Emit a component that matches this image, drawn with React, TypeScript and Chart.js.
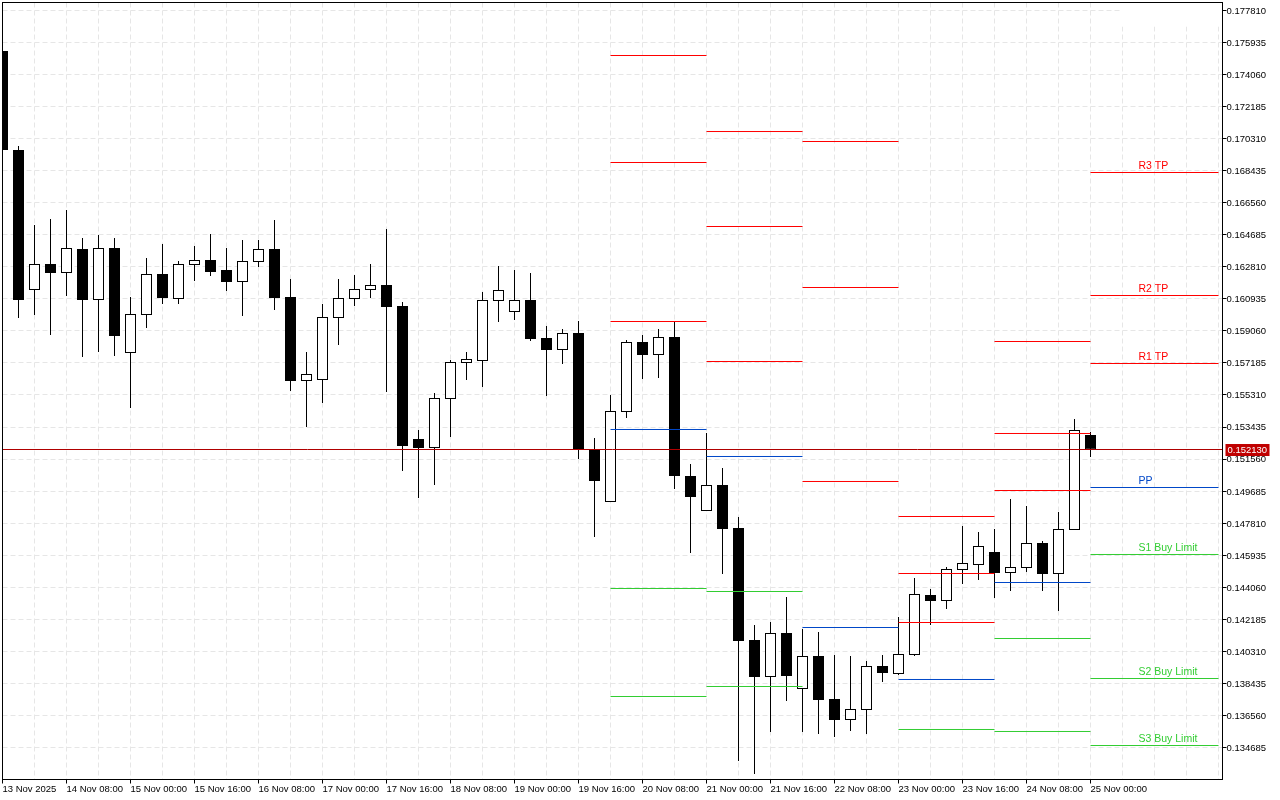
import { useEffect, useRef } from "react";
import { Chart, registerables } from "chart.js";
import type { Plugin } from "chart.js";

Chart.register(...registerables);

const opens = [
  0.17544, 0.169646, 0.161453, 0.162975, 0.162448, 0.163853, 0.160868, 0.163911, 0.157766, 0.15999,
  0.16239, 0.160927, 0.162916, 0.163209, 0.162624, 0.161921, 0.163092, 0.163853, 0.161044, 0.156128,
  0.156186, 0.159815, 0.160927, 0.161453, 0.161746, 0.160517, 0.152734, 0.152207, 0.155075, 0.157181,
  0.157298, 0.160809, 0.160166, 0.160868, 0.158644, 0.157942, 0.158937, 0.152149, 0.149047, 0.154314,
  0.15841, 0.157649, 0.158703, 0.150568, 0.14852, 0.150042, 0.147525, 0.140971, 0.138806, 0.141381,
  0.138104, 0.140035, 0.137519, 0.13629, 0.136875, 0.13945, 0.138982, 0.140093, 0.143605, 0.143253,
  0.145068, 0.14536, 0.146121, 0.144892, 0.145185, 0.146648, 0.144834, 0.147408, 0.152968,
];
const highs = [
  0.17544, 0.16988, 0.165257, 0.165608, 0.166135, 0.164496, 0.164672, 0.164496, 0.161044, 0.163326,
  0.164145, 0.16315, 0.164028, 0.16473, 0.163911, 0.164379, 0.164379, 0.16555, 0.162097, 0.157825,
  0.160634, 0.162097, 0.162331, 0.162975, 0.165023, 0.160751, 0.15326, 0.155426, 0.157357, 0.157825,
  0.161336, 0.162858, 0.162624, 0.162448, 0.159346, 0.159171, 0.159639, 0.152792, 0.155309, 0.158527,
  0.15882, 0.159171, 0.159581, 0.151271, 0.153085, 0.151037, 0.148169, 0.141849, 0.142025, 0.143488,
  0.141615, 0.141439, 0.140093, 0.140035, 0.139742, 0.140093, 0.142317, 0.144599, 0.143956, 0.145243,
  0.147642, 0.147291, 0.147467, 0.149223, 0.148813, 0.146765, 0.148462, 0.153904, 0.153143,
];
const lows = [
  0.169646, 0.159815, 0.15999, 0.15882, 0.161102, 0.157532, 0.157825, 0.157591, 0.154548, 0.159229,
  0.160634, 0.160634, 0.16198, 0.162272, 0.161395, 0.159932, 0.162799, 0.160283, 0.155543, 0.153436,
  0.15484, 0.158235, 0.160517, 0.160985, 0.155484, 0.150861, 0.149281, 0.150042, 0.152851, 0.156186,
  0.155777, 0.159581, 0.159698, 0.158469, 0.15525, 0.157123, 0.151563, 0.146999, 0.149047, 0.153963,
  0.156245, 0.156303, 0.149808, 0.146062, 0.14852, 0.144834, 0.13389, 0.13313, 0.135587, 0.137401,
  0.135587, 0.13547, 0.135295, 0.135646, 0.13547, 0.138513, 0.138923, 0.140035, 0.141849, 0.142785,
  0.144248, 0.144482, 0.143429, 0.143839, 0.144951, 0.143839, 0.142668, 0.147408, 0.15168,
];
const closes = [
  0.169646, 0.160868, 0.162975, 0.162448, 0.163911, 0.160868, 0.163911, 0.158761, 0.160049, 0.16239,
  0.160985, 0.162975, 0.163209, 0.162507, 0.161921, 0.16315, 0.163853, 0.160985, 0.156128, 0.156538,
  0.159873, 0.160985, 0.161512, 0.161746, 0.160458, 0.152324, 0.152207, 0.155133, 0.15724, 0.157415,
  0.160868, 0.161453, 0.160868, 0.158586, 0.157942, 0.158937, 0.15209, 0.150276, 0.154372, 0.15841,
  0.157649, 0.158703, 0.150568, 0.14934, 0.150042, 0.147467, 0.140913, 0.138806, 0.141381, 0.138864,
  0.140035, 0.13746, 0.13629, 0.136933, 0.13945, 0.13904, 0.140152, 0.143663, 0.143253, 0.145126,
  0.145477, 0.146472, 0.144892, 0.145243, 0.146648, 0.144834, 0.147467, 0.15326, 0.15213,
];

const xLabels = [
  "13 Nov 2025", "14 Nov 08:00", "15 Nov 00:00", "15 Nov 16:00", "16 Nov 08:00", "17 Nov 00:00",
  "17 Nov 16:00", "18 Nov 08:00", "19 Nov 00:00", "19 Nov 16:00", "20 Nov 08:00", "21 Nov 00:00",
  "21 Nov 16:00", "22 Nov 08:00", "23 Nov 00:00", "23 Nov 16:00", "24 Nov 08:00", "25 Nov 00:00",
];
const yTicks = [
  0.17781, 0.175935, 0.17406, 0.172185, 0.17031, 0.168435, 0.16656, 0.164685, 0.16281, 0.160935, 0.15906,
  0.157185, 0.15531, 0.153435, 0.15156, 0.149685, 0.14781, 0.145935, 0.14406, 0.142185, 0.14031, 0.138435,
  0.13656, 0.134685,
];

// [first bar, last bar, price] of each pivot level
const redLevels = [
  [38, 44, 0.175176], [38, 44, 0.168914], [38, 44, 0.15961],
  [44, 50, 0.170728], [44, 50, 0.165169], [44, 50, 0.157269],
  [50, 56, 0.170143], [50, 56, 0.161599], [50, 56, 0.150247],
  [56, 62, 0.148198], [56, 62, 0.144863], [56, 62, 0.141995],
  [62, 68, 0.158439], [62, 68, 0.153056], [62, 68, 0.14972],
  [68, 76, 0.168329], [68, 76, 0.161131], [68, 76, 0.157152],
];
const blueLevels = [
  [38, 44, 0.15329], [44, 50, 0.15171], [50, 56, 0.141703],
  [56, 62, 0.13866], [62, 68, 0.144336], [68, 76, 0.149895],
];
const greenLevels = [
  [38, 44, 0.143985], [38, 44, 0.137665],
  [44, 50, 0.143809], [44, 50, 0.13825],
  [56, 62, 0.135734],
  [62, 68, 0.141059], [62, 68, 0.135617],
  [68, 76, 0.145975], [68, 76, 0.138718], [68, 76, 0.134797],
];

const redNames = [["R3 TP", 0.168329], ["R2 TP", 0.161131], ["R1 TP", 0.157152]] as const;
const blueNames = [["PP", 0.149895]] as const;
const greenNames = [["S1 Buy Limit", 0.145975], ["S2 Buy Limit", 0.138718], ["S3 Buy Limit", 0.134797]] as const;

const bidLabel = "0.152130";
const bidLine = 0.152119; // where the line sits on the picture

const RED = "#ff0000";
const BLUE = "#0047c8";
const GREEN = "#32cd32";
const BID = "#b00000";
const GRID = "#e6e6e6";
const FONT = "'Liberation Sans', sans-serif";

function levelPoints(levels: number[][]) {
  return levels.flatMap(([from, to, price]) => [
    { x: from, y: price },
    { x: to, y: price },
    { x: to, y: null },
  ]);
}

const decorations: Plugin = {
  id: "decorations",
  beforeDatasetsDraw(chart) {
    // the terminal leaves the grid out of the top right corner
    const { ctx, chartArea, scales } = chart;
    const left = scales.x.getPixelForValue(69.9);
    const bottom = scales.y.getPixelForValue(0.17688);
    ctx.save();
    ctx.fillStyle = "#ffffff";
    ctx.fillRect(left, chartArea.top, chartArea.right - left, bottom - chartArea.top);
    ctx.restore();
  },
  afterDraw(chart) {
    const { ctx, chartArea, scales } = chart;
    ctx.save();
    ctx.strokeStyle = "#000000";
    ctx.lineWidth = 1;
    ctx.strokeRect(chartArea.left, chartArea.top, chartArea.width, chartArea.height);

    ctx.font = `10.5px ${FONT}`;
    ctx.textAlign = "left";
    ctx.textBaseline = "alphabetic";
    const x = scales.x.getPixelForValue(71);
    const names: [readonly (readonly [string, number])[], string][] = [
      [redNames, RED],
      [blueNames, BLUE],
      [greenNames, GREEN],
    ];
    names.forEach(([list, color]) => {
      ctx.fillStyle = color;
      list.forEach(([name, price]) => ctx.fillText(name, x, scales.y.getPixelForValue(price) - 3.5));
    });

    const y = scales.y.getPixelForValue(bidLine);
    ctx.fillStyle = "#c00000";
    ctx.fillRect(chartArea.right + 3, y - 5.5, 44, 12);
    ctx.fillStyle = "#ffffff";
    ctx.font = `9.5px ${FONT}`;
    ctx.textBaseline = "middle";
    ctx.fillText(bidLabel, chartArea.right + 5, y + 1);
    ctx.restore();
  },
};

export default function App() {
  const canvasRef = useRef<HTMLCanvasElement>(null);

  useEffect(() => {
    const canvas = canvasRef.current;
    if (!canvas) return;

    const bodyColors = opens.map((o, i) => (o > closes[i] ? "#000000" : "#ffffff"));

    const chart = new Chart(canvas, {
      type: "bar",
      data: {
        datasets: [
          {
            type: "line",
            data: levelPoints(redLevels),
            borderColor: RED,
            borderWidth: 1,
            pointRadius: 0,
            spanGaps: false,
            order: 1,
          },
          {
            type: "line",
            data: levelPoints(blueLevels),
            borderColor: BLUE,
            borderWidth: 1,
            pointRadius: 0,
            spanGaps: false,
            order: 1,
          },
          {
            type: "line",
            data: levelPoints(greenLevels),
            borderColor: GREEN,
            borderWidth: 1,
            pointRadius: 0,
            spanGaps: false,
            order: 1,
          },
          {
            type: "line",
            data: [
              { x: 0, y: bidLine },
              { x: 76.25, y: bidLine },
            ],
            borderColor: BID,
            borderWidth: 1,
            pointRadius: 0,
            order: 0,
          },
          {
            data: opens.map((o, i) => ({ x: i, y: [o, closes[i]] })),
            backgroundColor: bodyColors,
            borderColor: "#000000",
            borderWidth: 1,
            borderSkipped: false,
            inflateAmount: 0,
            grouped: false,
            maxBarThickness: 11,
            order: 2,
          },
          {
            data: lows.map((l, i) => ({ x: i, y: [l, highs[i]] })),
            backgroundColor: "#000000",
            borderWidth: 0,
            inflateAmount: 0,
            grouped: false,
            maxBarThickness: 1,
            order: 3,
          },
        ],
      } as any,
      options: {
        responsive: false,
        animation: false,
        devicePixelRatio: 1,
        events: [],
        layout: { padding: { left: 2.5, top: 2.5, right: 0, bottom: 0 } },
        plugins: { legend: { display: false }, tooltip: { enabled: false } },
        scales: {
          x: {
            type: "linear",
            min: 0,
            max: 76.25,
            offset: false,
            afterFit: (scale: any) => {
              scale.height = 20.5;
              scale.paddingLeft = 0;
              scale.paddingRight = 0;
            },
            grid: {
              offset: false,
              color: GRID,
              tickLength: 4,
              tickColor: (c) => (c.index % 2 === 0 && c.index / 2 < xLabels.length ? "#000000" : "transparent"),
            },
            border: { color: "#000000", dash: [5, 3] },
            ticks: {
              stepSize: 2,
              includeBounds: false,
              autoSkip: false,
              maxRotation: 0,
              align: "start",
              padding: 0,
              color: "#000000",
              font: { family: FONT, size: 9.5 },
              callback: (value) => {
                const n = Number(value);
                return n % 4 === 0 ? xLabels[n / 4] ?? "" : "";
              },
            },
          },
          y: {
            type: "linear",
            position: "right",
            min: 0.132808,
            max: 0.178278,
            beginAtZero: false,
            afterBuildTicks: (scale) => {
              scale.ticks = yTicks.map((value) => ({ value }));
            },
            afterFit: (scale: any) => {
              scale.width = 57.5;
              scale.paddingTop = 0;
              scale.paddingBottom = 0;
            },
            grid: { color: GRID, tickLength: 4, tickColor: "#000000" },
            border: { color: "#000000", dash: [5, 3] },
            ticks: {
              autoSkip: false,
              padding: 0,
              labelOffset: 0.8,
              color: "#000000",
              font: { family: FONT, size: 9.5 },
              callback: (value) => Number(value).toFixed(6),
            },
          },
        },
      },
      plugins: [decorations],
    });

    return () => chart.destroy();
  }, []);

  return (
    <div style={{ position: "fixed", left: 0, top: 0, width: 1280, height: 800, background: "#ffffff" }}>
      <canvas ref={canvasRef} width={1280} height={800} style={{ display: "block" }} />
    </div>
  );
}
